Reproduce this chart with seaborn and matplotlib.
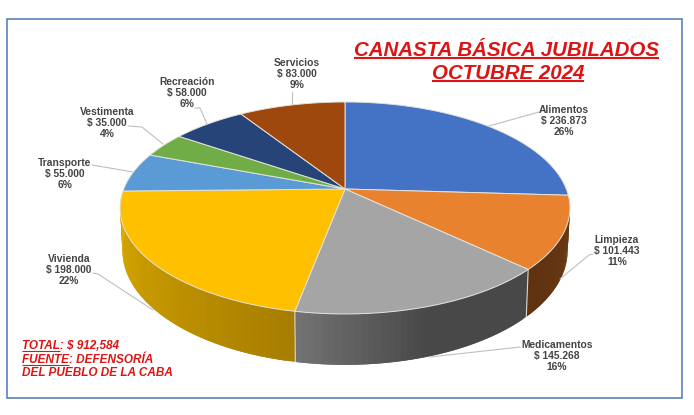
import numpy as np
import matplotlib
matplotlib.use('Agg')
import matplotlib.pyplot as plt
import seaborn as sns
from matplotlib.path import Path
from matplotlib.patches import Rectangle
from matplotlib.transforms import Transform

categories = ['Alimentos', 'Limpieza', 'Medicamentos', 'Vivienda', 'Transporte', 'Vestimenta', 'Recreación', 'Servicios']
values = [236873, 101443, 145268, 198000, 55000, 35000, 58000, 83000]
percents = ['26%', '11%', '16%', '22%', '6%', '4%', '6%', '9%']
colors = ['#4472C4', '#E9822F', '#A5A5A5', '#FFC000', '#5B9BD5', '#70AD47', '#264478', '#9E480E']

# side wall shading, in the order the slice runs (clockwise)
wall_colors = {
    'Limpieza': ['#6E3A12', '#5F3210'],
    'Medicamentos': ['#484848', '#484848', '#727272'],
    'Vivienda': ['#A87E00', '#C49600', '#DDAE00'],
}

label_pos = [(564, 121), (617, 251), (557, 356), (69, 270), (65, 174), (107, 123), (187, 93), (297, 74)]
leaders = [
    [(539, 112), (489, 126)],
    [(593, 254), (589, 255), (560, 279)],
    [(520, 347), (430, 357)],
    [(93, 273), (98, 274), (153, 310)],
    [(92, 165), (133, 172)],
    [(128, 126), (142, 127), (163, 144)],
    [(195, 108), (200, 108), (207, 124)],
    [(292, 92), (292, 105)],
]

sns.set_theme(style='white')
plt.rcParams['font.family'] = ['Liberation Sans', 'DejaVu Sans']

CX, CY = 345, 189
K = 0.179


def project(u, v, bx=221.3, ay=102.6, cy=CY):
    w = 1 + K * v
    return CX + bx * u / w, cy - ay * v / w


class Perspective(Transform):
    input_dims = 2
    output_dims = 2
    is_affine = False
    has_inverse = False

    def transform_non_affine(self, pts):
        pts = np.asarray(pts, dtype=float)
        x, y = project(pts[:, 0], pts[:, 1])
        return np.column_stack([x, y])

    def transform_path_non_affine(self, path):
        parts = [bez(np.linspace(0, 1, 14)) for bez, code in path.iter_bezier()]
        return Path(self.transform_non_affine(np.vstack(parts)))


def top_rim(theta):
    return project(np.sin(theta), np.cos(theta))


def bottom_rim(theta):
    return project(np.sin(theta), np.cos(theta), bx=219, ay=110.7, cy=230)


fig = plt.figure(figsize=(6.94, 4.15), dpi=100, facecolor='white')
ax = fig.add_axes([0, 0, 1, 1])

# side walls, each strip runs under the next one so no seams show
edges = np.concatenate([[0], np.cumsum(values)]) / sum(values) * 2 * np.pi
for i, name in enumerate(categories):
    if name not in wall_colors:
        continue
    n = 40
    th = np.linspace(edges[i], edges[i + 1], n + 1)
    pal = sns.blend_palette(wall_colors[name], n)
    for j in range(n):
        seg = th[j:min(j + 3, n + 1)]
        x0, y0 = top_rim(seg)
        x1, y1 = bottom_rim(seg)
        ax.fill(np.r_[x0, x1[::-1]], np.r_[y0, y1[::-1]], facecolor=pal[j], edgecolor='none', lw=0, zorder=1)

# light seams between the walls that can be seen
for t in edges[2:4]:
    xa, ya = top_rim(t)
    xb, yb = bottom_rim(t)
    ax.plot([xa, xb], [ya, yb], color='#D8D8D0', lw=0.8, zorder=2)

# top surface
wedges, _ = ax.pie(values, colors=colors, startangle=90, counterclock=False, radius=1,
                   wedgeprops={'edgecolor': '#E4E2D8', 'linewidth': 0.7}, frame=False)
ax.set_aspect('auto')
ax.set_xlim(0, 694)
ax.set_ylim(415, 0)
ax.axis('off')
persp = Perspective() + ax.transData
for w in wedges:
    w.set_transform(persp)
    w.set_zorder(3)

# leader lines and labels
for pts in leaders:
    ax.plot([p[0] for p in pts], [p[1] for p in pts], color='#BFBFBF', lw=0.8, zorder=2.5)
for name, val, pct, (x, y) in zip(categories, values, percents, label_pos):
    txt = f'{name}\n$ {val:,}\n{pct}'.replace(',', '.')
    ax.text(x, y, txt, ha='center', va='center', fontsize=7.4, fontweight='bold',
            color='#444444', linespacing=1.17, zorder=5)

# frame
ax.add_patch(Rectangle((7, 19), 675, 379, fill=False, edgecolor='#4A78B4', lw=1.1, zorder=6))

RED = '#DC1414'
renderer = fig.canvas.get_renderer()


def red_text(x, y, s, size, ha='left', underline=None, lw=1.0, gap=2.0):
    style = dict(fontsize=size, fontweight='bold', fontstyle='italic', color=RED, zorder=6)
    t = ax.text(x, y, s, ha=ha, va='baseline', **style)
    if underline:
        probe = ax.text(x, y, underline, ha=ha, va='baseline', **style)
        width = probe.get_window_extent(renderer).width
        probe.remove()
        x0 = t.get_window_extent(renderer).x0
        ax.plot([x0, x0 + width], [y + gap, y + gap], color=RED, lw=lw, zorder=6, solid_capstyle='butt')
    return t


red_text(507, 56, 'CANASTA BÁSICA JUBILADOS', 14.8, ha='center', underline='CANASTA BÁSICA JUBILADOS', lw=1.5, gap=2.5)
red_text(508, 79, 'OCTUBRE 2024', 14.8, ha='center', underline='OCTUBRE 2024', lw=1.5, gap=2.5)
red_text(22, 349, 'TOTAL: $ 912,584', 8.5, underline='TOTAL', lw=0.8, gap=1.5)
red_text(22, 363, 'FUENTE: DEFENSORÍA', 8.5, underline='FUENTE', lw=0.8, gap=1.5)
red_text(22, 376, 'DEL PUEBLO DE LA CABA', 8.5)

fig.savefig('out.png', dpi=100)
